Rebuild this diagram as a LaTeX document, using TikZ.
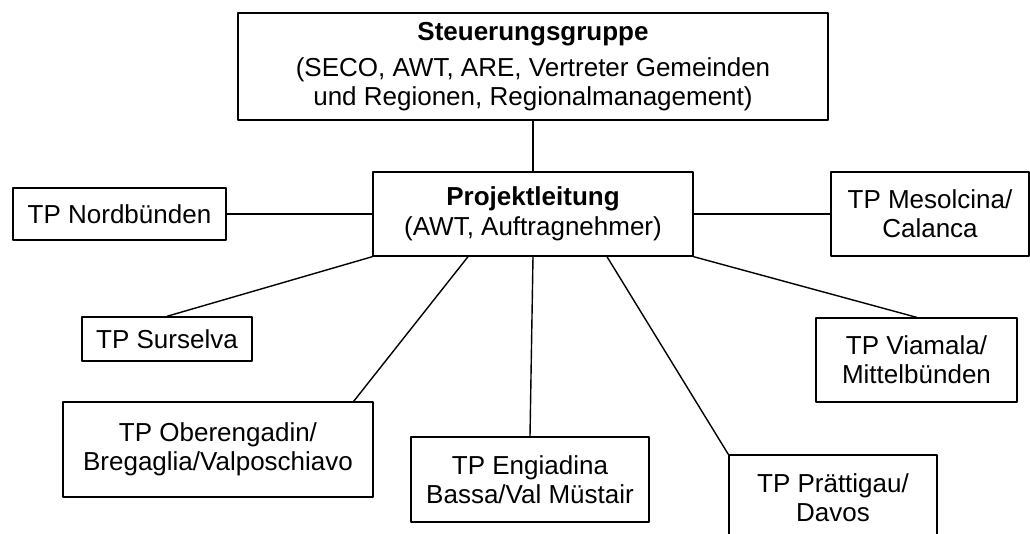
\documentclass[tikz,border=0pt]{standalone}
\usepackage{fontspec}
\setmainfont{Liberation Sans}
\usetikzlibrary{calc}

\begin{document}
\begin{tikzpicture}[line cap=round,line join=round,x=0.5pt,y=-0.5pt,
	box/.style={draw,line width=0.7pt,align=center,inner sep=0pt,font=\fontsize{13pt}{14.5pt}\selectfont},
	link/.style={line width=0.7pt}]
		\useasboundingbox (0,0) rectangle (1030,534);
		\clip (0,0) rectangle (1030,534);
		\node[box,minimum width=295pt,minimum height=53.5pt] (steuer) at (533,66.5) {\textbf{Steuerungsgruppe}\\[3.5pt](SECO, AWT, ARE, Vertreter Gemeinden\\und Regionen, Regionalmanagement)};
		\node[box,minimum width=160pt,minimum height=42pt] (leitung) at (533,214) {\textbf{Projektleitung}\\[0.5pt](AWT, Auftragnehmer)};
		\node[box,minimum width=106.5pt,minimum height=26pt] (nord) at (119.5,214) {TP Nordbünden};
		\node[box,minimum width=99pt,minimum height=42pt] (meso) at (930,214) {TP Mesolcina/\\Calanca};
		\node[box,minimum width=85pt,minimum height=22pt] (sursel) at (167,339) {TP Surselva};
		\node[box,minimum width=100.5pt,minimum height=42pt] (viamala) at (916.5,360) {TP Viamala/\\Mittelbünden};
		\node[box,minimum width=155pt,minimum height=47.5pt] (ober) at (218,449.5) {TP Oberengadin/\\Bregaglia/Valposchiavo};
		\node[box,minimum width=119pt,minimum height=42.5pt] (engia) at (530,479.5) {TP Engiadina\\Bassa/Val Müstair};
		\node[box,minimum width=104pt,minimum height=42.5pt] (praett) at (833,497.5) {TP Prättigau/\\Davos};
		\draw[link] (steuer.south) -- (leitung.north);
		\draw[link] (nord.east) -- (leitung.west);
		\draw[link] (leitung.east) -- (meso.west);
		\draw[link] (leitung.south west) -- (sursel.north);
		\draw[link] (leitung.south east) -- (viamala.north);
		\draw[link] ([xshift=-32.5pt]leitung.south) -- ([xshift=-10pt]ober.north east);
		\draw[link] (leitung.south) -- (engia.north);
		\draw[link] ([xshift=37pt]leitung.south) -- (praett.north west);
\end{tikzpicture}
\end{document}
